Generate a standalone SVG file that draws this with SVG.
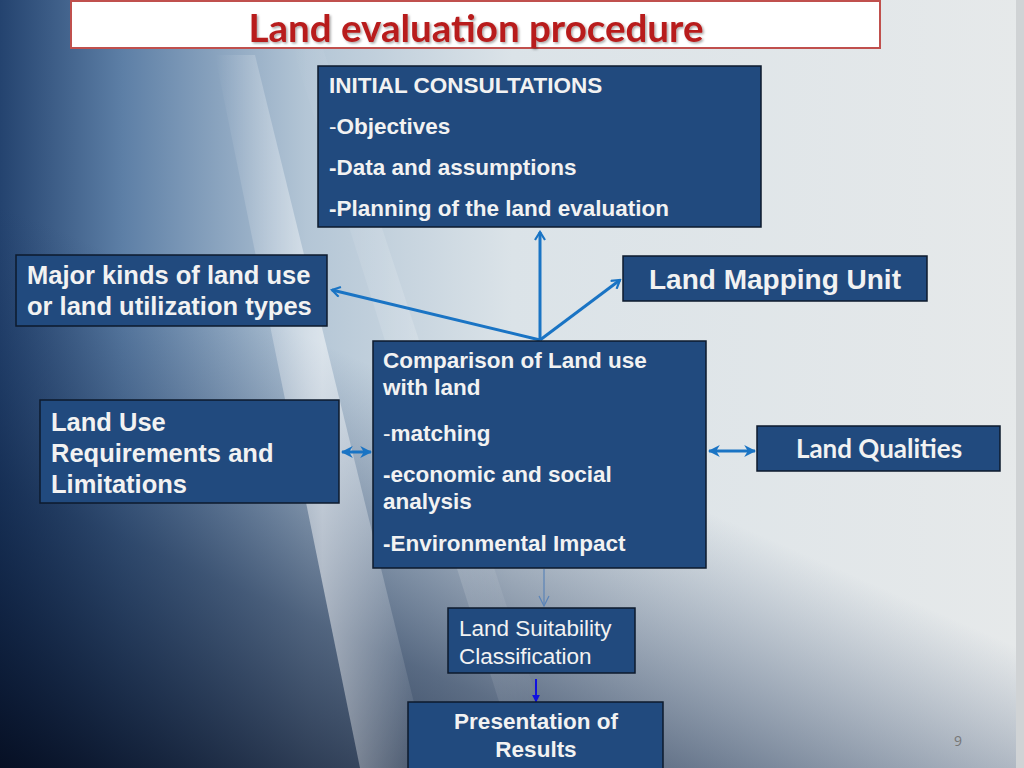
<svg xmlns="http://www.w3.org/2000/svg" width="1024" height="768" viewBox="0 0 1024 768">
<defs>
<linearGradient id="bg" x1="0" y1="0" x2="1" y2="0">
<stop offset="0" stop-color="#24436f"/>
<stop offset="0.12" stop-color="#5d7fa6"/>
<stop offset="0.3" stop-color="#b4c6d6"/>
<stop offset="0.5" stop-color="#dbe3e8"/>
<stop offset="1" stop-color="#e6e9ea"/>
</linearGradient>
<linearGradient id="dark" x1="0" y1="1" x2="0.32" y2="0.45">
<stop offset="0" stop-color="#050d20" stop-opacity="0.95"/>
<stop offset="0.5" stop-color="#0d2244" stop-opacity="0.6"/>
<stop offset="1" stop-color="#1a3560" stop-opacity="0"/>
</linearGradient>
<linearGradient id="streak" x1="0" y1="0" x2="1" y2="0">
<stop offset="0" stop-color="#ffffff" stop-opacity="0"/>
<stop offset="0.5" stop-color="#ffffff" stop-opacity="0.5"/>
<stop offset="1" stop-color="#ffffff" stop-opacity="0"/>
</linearGradient>
<marker id="open" viewBox="0 0 12 12" refX="10" refY="6" markerWidth="4" markerHeight="4" orient="auto-start-reverse" markerUnits="strokeWidth">
<path d="M2,1 L10,6 L2,11" fill="none" stroke="#1a74c4" stroke-width="2.2"/>
</marker>
<marker id="dbl" viewBox="0 0 10 10" refX="9" refY="5" markerWidth="4" markerHeight="4" orient="auto-start-reverse" markerUnits="strokeWidth">
<path d="M0,0 L10,5 L0,10 L3,5 Z" fill="#1a74c4"/>
</marker>
<marker id="thin" viewBox="0 0 12 12" refX="11" refY="6" markerWidth="12" markerHeight="12" orient="auto" markerUnits="userSpaceOnUse">
<path d="M1,1 L11,6 L1,11" fill="none" stroke="#5b84b8" stroke-width="1.2"/>
</marker>
<marker id="solid" viewBox="0 0 10 10" refX="9" refY="5" markerWidth="4" markerHeight="4" orient="auto" markerUnits="strokeWidth">
<path d="M0,0 L10,5 L0,10 Z" fill="#1010e0"/>
</marker>
<filter id="tshadow" x="-5%" y="-20%" width="110%" height="140%">
<feDropShadow dx="1.5" dy="1.5" stdDeviation="1" flood-color="#000" flood-opacity="0.35"/>
</filter>
</defs>
<style>
.box{fill:#214a7e;stroke:#0d1a2c;stroke-width:1.5}
.t{font-family:"Liberation Sans",Arial,sans-serif;fill:#f2f2f2;font-weight:bold}
.r{font-weight:normal}
.c{text-anchor:middle}
.cal{font-family:Lato,"Open Sans",sans-serif}
.conn{fill:none;stroke:#1a74c4;stroke-width:3}
</style>
<rect width="1024" height="768" fill="url(#bg)"/>
<rect width="1024" height="768" fill="url(#dark)"/>
<polygon points="215,55 255,55 430,768 360,768" fill="url(#streak)"/>
<polygon points="290,40 320,40 560,768 520,768" fill="url(#streak)" opacity="0.35"/>
<rect x="1016" y="0" width="8" height="768" fill="#d0d3d5"/>

<g id="title">
<rect x="71" y="1" width="809" height="47" fill="#ffffff" stroke="#c0504d" stroke-width="2"/>
<text x="476" y="42" text-anchor="middle" font-family="Lato,'Open Sans',sans-serif" font-weight="bold" font-size="38.5" fill="#b81e1e" filter="url(#tshadow)">Land evaluation procedure</text>
</g>

<g id="connectors">
<line class="conn" x1="540" y1="340" x2="540" y2="232" marker-end="url(#open)"/>
<line class="conn" x1="540" y1="340" x2="332" y2="290" marker-end="url(#open)"/>
<line class="conn" x1="540" y1="340" x2="620" y2="280" marker-end="url(#open)"/>
<line class="conn" x1="342" y1="452" x2="371" y2="452" stroke-width="2.5" marker-start="url(#dbl)" marker-end="url(#dbl)"/>
<line class="conn" x1="709" y1="451" x2="755" y2="451" stroke-width="2.5" marker-start="url(#dbl)" marker-end="url(#dbl)"/>
<line x1="544" y1="569" x2="544" y2="606" stroke="#5b84b8" stroke-width="1.2" marker-end="url(#thin)"/>
<line x1="536" y1="679" x2="536" y2="702" stroke="#1010e0" stroke-width="2" marker-end="url(#solid)"/>
</g>

<g id="initial">
<rect class="box" x="318" y="66" width="443" height="161"/>
<text class="t" font-size="22.5" x="329" y="93">INITIAL CONSULTATIONS</text>
<text class="t" font-size="22.5" x="329" y="134"><tspan class="r">-</tspan>Objectives</text>
<text class="t" font-size="22.5" x="329" y="175">-Data and assumptions</text>
<text class="t" font-size="22.5" x="329" y="216">-Planning of the land evaluation</text>
</g>

<g id="major">
<rect class="box" x="16" y="255" width="311" height="71"/>
<text class="t" font-size="25.5" x="27" y="284">Major kinds of land use</text>
<text class="t" font-size="25.5" x="27" y="315">or land utilization types</text>
</g>

<g id="mapping">
<rect class="box" x="623" y="256" width="304" height="45"/>
<text class="t c" font-size="28" x="775" y="289">Land Mapping Unit</text>
</g>

<g id="comparison">
<rect class="box" x="373" y="341" width="333" height="227"/>
<text class="t" font-size="22.5" x="383" y="368">Comparison of Land use</text>
<text class="t" font-size="22.5" x="383" y="395">with land</text>
<text class="t" font-size="22.5" x="383" y="441"><tspan class="r">-</tspan>matching</text>
<text class="t" font-size="22.5" x="383" y="482">-economic and social</text>
<text class="t" font-size="22.5" x="383" y="509">analysis</text>
<text class="t" font-size="22.5" x="383" y="551">-Environmental Impact</text>
</g>

<g id="requirements">
<rect class="box" x="40" y="400" width="299" height="103"/>
<text class="t" font-size="25.5" x="51" y="431">Land Use</text>
<text class="t" font-size="25.5" x="51" y="462">Requirements and</text>
<text class="t" font-size="25.5" x="51" y="493">Limitations</text>
</g>

<g id="qualities">
<rect class="box" x="757" y="426" width="243" height="45"/>
<text class="t c cal" font-size="26" x="879" y="458">Land Qualities</text>
</g>

<g id="suitability">
<rect class="box" x="448" y="608" width="187" height="65"/>
<text class="t r" font-size="22.5" x="459" y="636">Land Suitability</text>
<text class="t r" font-size="22.5" x="459" y="664">Classification</text>
</g>

<g id="presentation">
<rect class="box" x="408" y="702" width="255" height="70"/>
<text class="t c" font-size="22.5" x="536" y="729">Presentation of</text>
<text class="t c" font-size="22.5" x="536" y="757">Results</text>
</g>

<text x="958" y="746" text-anchor="middle" font-family="'Open Sans',sans-serif" font-size="14" fill="#777">9</text>
</svg>
